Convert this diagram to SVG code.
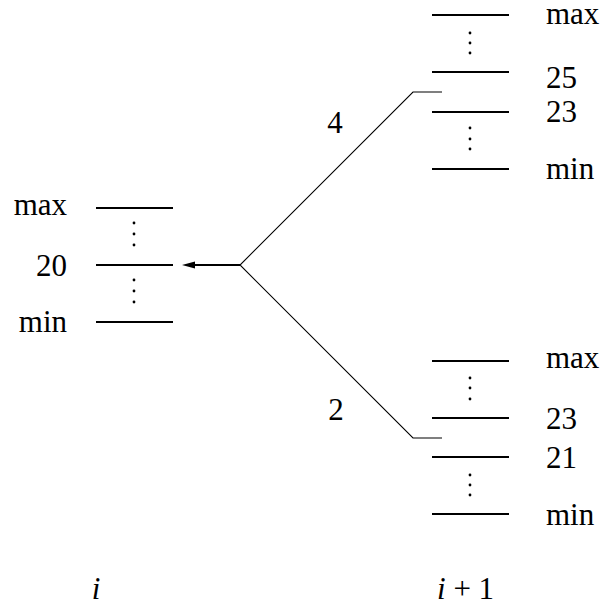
<svg xmlns="http://www.w3.org/2000/svg" width="608" height="607" viewBox="0 0 608 607">
  <style>
    .lvl { stroke: #000; stroke-width: 2; fill: none; }
    .edge { stroke: #000; stroke-width: 1.1; fill: none; }
    .lbl { font-family: 'Liberation Serif', Tinos, 'Nimbus Roman', 'FreeSerif', 'Noto Serif', 'DejaVu Serif', Times, serif; font-size: 31px; fill: #000; }
    .var { font-family: 'Liberation Serif', Tinos, 'Nimbus Roman', 'FreeSerif', 'Noto Serif', 'DejaVu Serif', Times, serif; font-size: 31px; font-style: italic; fill: #000; }
    .dot { fill: #000; }
  </style>
  <rect width="608" height="607" fill="#fff"/>

  <!-- stage i -->
  <g id="stage-i">
    <line class="lvl" x1="96" y1="208" x2="173" y2="208"/>
    <line class="lvl" x1="96" y1="265" x2="173" y2="265"/>
    <line class="lvl" x1="96" y1="322" x2="173" y2="322"/>
    <circle class="dot" cx="134" cy="223" r="1.4"/>
    <circle class="dot" cx="134" cy="234" r="1.4"/>
    <circle class="dot" cx="134" cy="245" r="1.4"/>
    <circle class="dot" cx="134" cy="280" r="1.4"/>
    <circle class="dot" cx="134" cy="291" r="1.4"/>
    <circle class="dot" cx="134" cy="302" r="1.4"/>
    <text class="lbl" x="67" y="215" text-anchor="end">max</text>
    <text class="lbl" x="67" y="276" text-anchor="end">20</text>
    <text class="lbl" x="67" y="332" text-anchor="end">min</text>
  </g>

  <!-- stage i+1, upper state -->
  <g id="stage-next-upper">
    <line class="lvl" x1="432" y1="15" x2="509" y2="15"/>
    <line class="lvl" x1="432" y1="72" x2="509" y2="72"/>
    <line class="lvl" x1="432" y1="112" x2="509" y2="112"/>
    <line class="lvl" x1="432" y1="169" x2="509" y2="169"/>
    <circle class="dot" cx="470" cy="33" r="1.4"/>
    <circle class="dot" cx="470" cy="43" r="1.4"/>
    <circle class="dot" cx="470" cy="53" r="1.4"/>
    <circle class="dot" cx="470" cy="128" r="1.4"/>
    <circle class="dot" cx="470" cy="139" r="1.4"/>
    <circle class="dot" cx="470" cy="149" r="1.4"/>
    <text class="lbl" x="546" y="24">max</text>
    <text class="lbl" x="546" y="88">25</text>
    <text class="lbl" x="546" y="122">23</text>
    <text class="lbl" x="546" y="179">min</text>
  </g>

  <!-- stage i+1, lower state -->
  <g id="stage-next-lower">
    <line class="lvl" x1="432" y1="361" x2="509" y2="361"/>
    <line class="lvl" x1="432" y1="418" x2="509" y2="418"/>
    <line class="lvl" x1="432" y1="457" x2="509" y2="457"/>
    <line class="lvl" x1="432" y1="514" x2="509" y2="514"/>
    <circle class="dot" cx="470" cy="378" r="1.4"/>
    <circle class="dot" cx="470" cy="388" r="1.4"/>
    <circle class="dot" cx="470" cy="399" r="1.4"/>
    <circle class="dot" cx="470" cy="475" r="1.4"/>
    <circle class="dot" cx="470" cy="485" r="1.4"/>
    <circle class="dot" cx="470" cy="495" r="1.4"/>
    <text class="lbl" x="546" y="368">max</text>
    <text class="lbl" x="546" y="429">23</text>
    <text class="lbl" x="546" y="468">21</text>
    <text class="lbl" x="546" y="525">min</text>
  </g>

  <!-- connectors -->
  <g id="connectors">
    <polyline class="edge" points="442,92 413,92 240,265 413,438 442,438"/>
    <line class="lvl" x1="240" y1="265" x2="192" y2="265"/>
    <polygon points="182,265 195,261.5 195,268.5" fill="#000"/>
    <text class="lbl" x="335" y="133" text-anchor="middle">4</text>
    <text class="lbl" x="336" y="420" text-anchor="middle">2</text>
  </g>

  <!-- stage indices -->
  <text class="var" x="96" y="599" text-anchor="middle">i</text>
  <text class="var" x="437" y="599">i<tspan class="lbl" font-style="normal"> + 1</tspan></text>
</svg>
